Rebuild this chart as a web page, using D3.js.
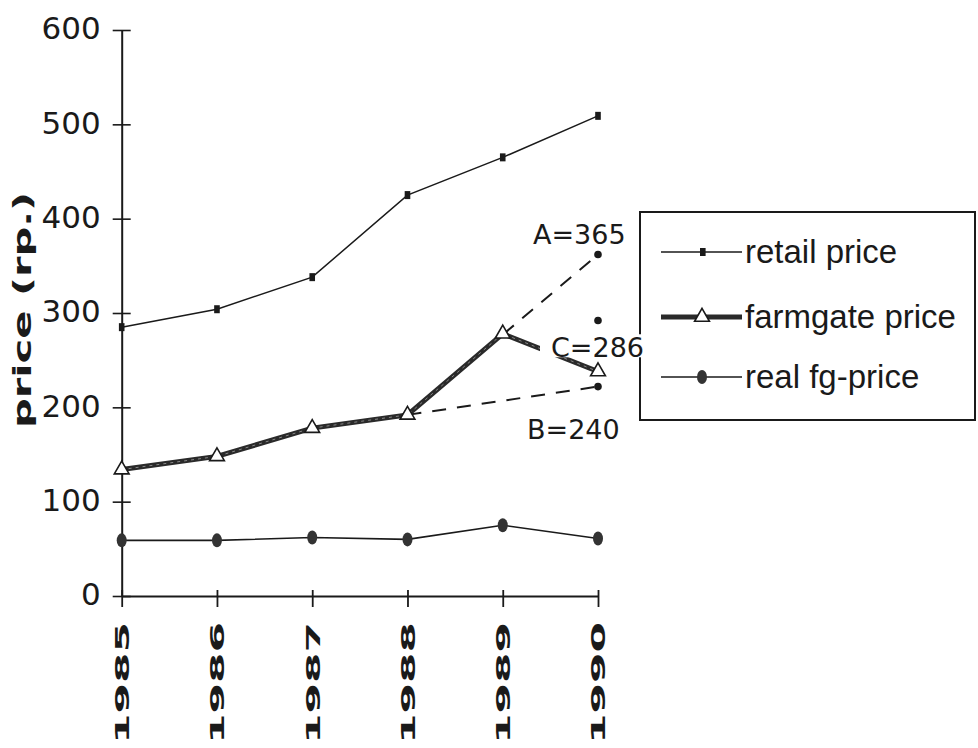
<!DOCTYPE html>
<html><head><meta charset="utf-8">
<script src="https://cdn.jsdelivr.net/npm/d3@7"></script>
<style>body{margin:0;background:#fff}svg{display:block}</style>
</head><body>
<svg id="c" width="978" height="748"></svg>
<script>
const years = ["1985","1986","1987","1988","1989","1990"];
const retail = [285, 304, 338, 425, 465, 509];
const farmgate = [134, 148, 178, 192, 278, 238];
const realFg = [59, 59, 62, 60, 75, 61];
const yTicks = [0, 100, 200, 300, 400, 500, 600];
const scenarioLabels = ["A=365", "B=240", "C=286"];
const scenarioValues = [362, 222, 292];
const seriesNames = ["retail price", "farmgate price", "real fg-price"];
const yTitle = "price (rp.)";

const svg = d3.select("#c");
const x = d3.scalePoint().domain(years).range([121.7, 598]);
const y = d3.scaleLinear().domain([0, 600]).range([596, 30]);
const ink = "#1a1a1a";

// axes
const yAxis = svg.append("g").attr("transform", "translate(121.7,0)")
  .call(d3.axisLeft(y).tickValues(yTicks).tickSize(0).tickPadding(21));
yAxis.select(".domain").attr("stroke", ink).attr("stroke-width", 2);
yAxis.selectAll(".tick text").attr("font-family", "DejaVu Sans").attr("font-size", 31).attr("fill", ink).attr("dy", "0.28em");
yAxis.selectAll(".tick").append("line").attr("x1", -9).attr("x2", 9).attr("stroke", ink).attr("stroke-width", 1.6);

const xAxis = svg.append("g").attr("transform", "translate(0,596)")
  .call(d3.axisBottom(x).tickSize(0).tickFormat(""));
xAxis.select(".domain").attr("stroke", ink).attr("stroke-width", 2);
xAxis.selectAll(".tick").append("line").attr("y1", -6).attr("y2", 11).attr("stroke", ink).attr("stroke-width", 1.8);
xAxis.selectAll(".tick").append("text")
  .attr("transform", "translate(0,26) rotate(-90)")
  .attr("text-anchor", "end").attr("dy", "0.36em")
  .attr("font-family", "DejaVu Sans").attr("font-weight", "bold")
  .attr("font-size", 19).attr("fill", ink)
  .attr("textLength", 122).attr("lengthAdjust", "spacingAndGlyphs")
  .text(d => d);

// y title
svg.append("text")
  .attr("transform", "translate(22,310) rotate(-90)")
  .attr("text-anchor", "middle").attr("dy", "0.36em")
  .attr("font-family", "DejaVu Sans").attr("font-weight", "bold")
  .attr("font-size", 24).attr("fill", ink)
  .attr("textLength", 236).attr("lengthAdjust", "spacingAndGlyphs")
  .text(yTitle);

const line = d3.line().x((d, i) => x(years[i])).y(d => y(d));

// dashed scenario lines
const baseIdx = 3, endIdx = 5;
[0, 1].forEach(k => {
  svg.append("line")
    .attr("x1", x(years[baseIdx])).attr("y1", y(farmgate[baseIdx]))
    .attr("x2", x(years[endIdx])).attr("y2", y(scenarioValues[k]))
    .attr("stroke", ink).attr("stroke-width", 2).attr("stroke-dasharray", "14,11");
});
scenarioValues.forEach(v => {
  svg.append("circle").attr("cx", x(years[endIdx])).attr("cy", y(v)).attr("r", 3.8).attr("fill", ink);
});

// retail
svg.append("path").datum(retail).attr("d", line).attr("fill", "none").attr("stroke", ink).attr("stroke-width", 1.5);
svg.selectAll(".rm").data(retail).enter().append("rect")
  .attr("x", (d, i) => x(years[i]) - 2.8).attr("y", d => y(d) - 4).attr("width", 5.6).attr("height", 8).attr("fill", ink);

// real fg
svg.append("path").datum(realFg).attr("d", line).attr("fill", "none").attr("stroke", ink).attr("stroke-width", 1.6);
svg.selectAll(".fm").data(realFg).enter().append("ellipse")
  .attr("cx", (d, i) => x(years[i])).attr("cy", d => y(d)).attr("rx", 5).attr("ry", 7).attr("fill", "#333");

// farmgate
svg.append("path").datum(farmgate).attr("d", line).attr("fill", "none").attr("stroke", "#2a2a2a").attr("stroke-width", 5);
svg.append("path").datum(farmgate).attr("d", line).attr("fill", "none").attr("stroke", "#888").attr("stroke-width", 1).attr("stroke-dasharray", "3,4");
const tri = d3.symbol().type(d3.symbolTriangle).size(95);
svg.selectAll(".tm").data(farmgate).enter().append("path")
  .attr("d", tri).attr("transform", (d, i) => `translate(${x(years[i])},${y(d)})`)
  .attr("fill", "#fff").attr("stroke", ink).attr("stroke-width", 1.6);

// legend
const lg = svg.append("g");
lg.append("rect").attr("x", 640).attr("y", 212).attr("width", 335).attr("height", 208)
  .attr("fill", "#fff").attr("stroke", ink).attr("stroke-width", 2);
const legY = [252, 317, 377];
seriesNames.forEach((n, k) => {
  const ly = legY[k];
  lg.append("line").attr("x1", 661).attr("x2", 742).attr("y1", ly).attr("y2", ly)
    .attr("stroke", k === 1 ? "#2a2a2a" : ink).attr("stroke-width", k === 1 ? 5 : 1.6);
  if (k === 0) lg.append("rect").attr("x", 700).attr("y", ly - 4).attr("width", 5.6).attr("height", 8).attr("fill", ink);
  if (k === 1) lg.append("path").attr("d", tri).attr("transform", `translate(702,${ly})`).attr("fill", "#fff").attr("stroke", ink).attr("stroke-width", 1.6);
  if (k === 2) lg.append("ellipse").attr("cx", 702).attr("cy", ly).attr("rx", 5).attr("ry", 7).attr("fill", "#333");
  lg.append("text").attr("x", 745).attr("y", ly).attr("dy", "0.34em")
    .attr("font-family", "Liberation Sans").attr("font-size", 33).attr("fill", ink).text(n);
});

// scenario labels
const labPos = [
  {dx: -65, dy: -20},
  {dx: -71, dy: 43},
  {dx: -47, dy: 27}
];
scenarioLabels.forEach((t, k) => {
  const px = x(years[endIdx]) + labPos[k].dx, py = y(scenarioValues[k]) + labPos[k].dy;
  const g = svg.append("g");
  const txt = g.append("text").attr("x", px).attr("y", py).attr("dy", "0.36em")
    .attr("font-family", "DejaVu Sans").attr("font-size", 27).attr("fill", ink).text(t);
  if (k === 2) {
    const bb = txt.node().getBBox();
    g.insert("rect", "text").attr("x", bb.x - 11).attr("y", bb.y + 2).attr("width", bb.width + 13).attr("height", bb.height - 8).attr("fill", "#fff");
  }
});
</script>
</body></html>
